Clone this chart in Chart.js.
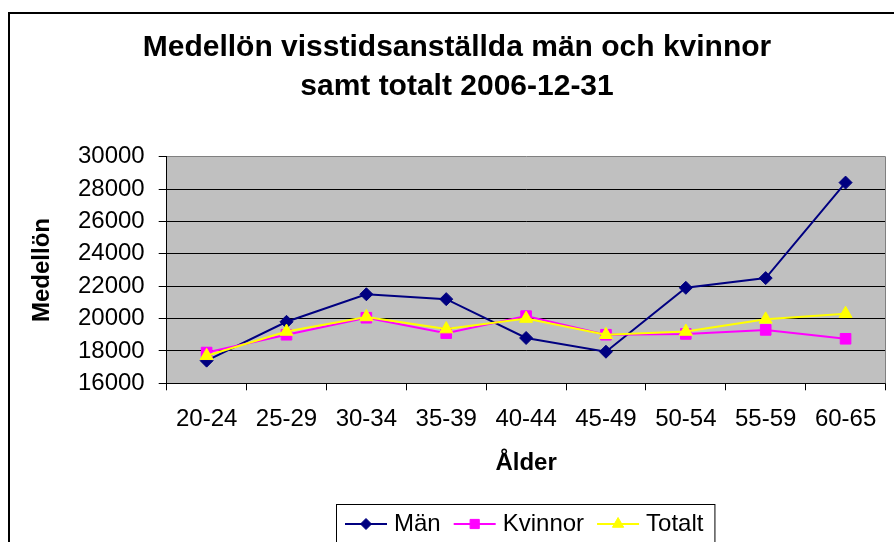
<!DOCTYPE html>
<html>
<head>
<meta charset="utf-8">
<script src="https://cdn.jsdelivr.net/npm/chart.js@4/dist/chart.umd.min.js"></script>
<style>
  html, body { margin: 0; padding: 0; background: #fff; }
  #wrap { width: 894px; height: 542px; position: relative; }
</style>
</head>
<body>
<div id="wrap"><canvas id="c" width="894" height="542"></canvas></div>
<script>
const titleLines = ['Medellön visstidsanställda män och kvinnor', 'samt totalt 2006-12-31'];
const xAxisTitle = 'Ålder';
const yAxisTitle = 'Medellön';
const categories = ['20-24', '25-29', '30-34', '35-39', '40-44', '45-49', '50-54', '55-59', '60-65'];
const seriesNames = ['Män', 'Kvinnor', 'Totalt'];
const manValues = [17400, 19800, 21500, 21200, 18800, 17950, 21900, 22500, 28400];
const kvinnorValues = [17900, 19000, 20050, 19100, 20150, 19000, 19050, 19300, 18750];
const totaltValues = [17700, 19200, 20100, 19350, 20000, 19000, 19200, 19950, 20300];
const yTickValues = [16000, 18000, 20000, 22000, 24000, 26000, 28000, 30000];

const FONT = '"Liberation Sans", Arial, sans-serif';

const bgPlugin = {
  id: 'bg',
  beforeDraw(chart) {
    const { ctx, chartArea: a } = chart;
    ctx.save();
    ctx.fillStyle = '#ffffff';
    ctx.fillRect(0, 0, chart.width, chart.height);
    ctx.fillStyle = '#C0C0C0';
    ctx.fillRect(a.left, a.top, a.right - a.left, a.bottom - a.top);
    ctx.restore();
  },
  beforeDatasetsDraw(chart) {
    const { ctx, chartArea: a } = chart;
    ctx.save();
    ctx.strokeStyle = '#808080';
    ctx.lineWidth = 1;
    ctx.beginPath();
    ctx.moveTo(Math.round(a.right) - 0.5, a.top);
    ctx.lineTo(Math.round(a.right) - 0.5, a.bottom);
    ctx.stroke();
    ctx.restore();
  },
  afterDraw(chart) {
    const ctx = chart.ctx;
    ctx.save();
    // outer frame
    ctx.strokeStyle = '#000';
    ctx.lineWidth = 2;
    ctx.strokeRect(9, 13, 2000, 2000);
    // legend
    const y = 524;
    let x = 345;
    ctx.font = '24px ' + FONT;
    ctx.textBaseline = 'middle';
    const items = [];
    chart.data.datasets.forEach((ds) => {
      const lx0 = x, lx1 = x + 42;
      const tx = lx1 + 7;
      const tw = ctx.measureText(ds.label).width;
      items.push({ ds, lx0, lx1, tx });
      x = tx + tw + 13;
    });
    const boxLeft = 336, boxRight = x - 2, boxTop = 504;
    ctx.fillStyle = '#fff';
    ctx.fillRect(boxLeft, boxTop, boxRight - boxLeft, 80);
    ctx.strokeStyle = '#000';
    ctx.lineWidth = 1;
    ctx.strokeRect(boxLeft + 0.5, boxTop + 0.5, boxRight - boxLeft, 80);
    items.forEach(({ ds, lx0, lx1, tx }) => {
      ctx.strokeStyle = ds.borderColor;
      ctx.lineWidth = 2;
      ctx.beginPath();
      ctx.moveTo(lx0, y);
      ctx.lineTo(lx1, y);
      ctx.stroke();
      ctx.fillStyle = ds.pointBackgroundColor;
      ctx.strokeStyle = ds.pointBorderColor;
      ctx.lineWidth = 1;
      Chart.helpers.drawPoint(ctx, { pointStyle: ds.pointStyle, radius: ds.pointRadius - 1, rotation: 0, borderWidth: 1 }, (lx0 + lx1) / 2, y);
      ctx.fillStyle = '#000';
      ctx.textAlign = 'left';
      ctx.fillText(ds.label, tx, y);
    });
    ctx.restore();
  }
};

const ctx = document.getElementById('c').getContext('2d');
new Chart(ctx, {
  type: 'line',
  data: {
    labels: categories,
    datasets: [
      {
        label: seriesNames[0], data: manValues,
        borderColor: '#000080', backgroundColor: '#000080',
        pointBackgroundColor: '#000080', pointBorderColor: '#000080',
        pointStyle: 'rectRot', pointRadius: 6.5, borderWidth: 2, pointBorderWidth: 1,
        order: 3, tension: 0
      },
      {
        label: seriesNames[1], data: kvinnorValues,
        borderColor: '#FF00FF', backgroundColor: '#FF00FF',
        pointBackgroundColor: '#FF00FF', pointBorderColor: '#FF00FF',
        pointStyle: 'rect', pointRadius: 7.5, borderWidth: 2, pointBorderWidth: 1,
        order: 2, tension: 0
      },
      {
        label: seriesNames[2], data: totaltValues,
        borderColor: '#FFFF00', backgroundColor: '#FFFF00',
        pointBackgroundColor: '#FFFF00', pointBorderColor: '#FFFF00',
        pointStyle: 'triangle', pointRadius: 7.5, borderWidth: 2, pointBorderWidth: 1,
        order: 1, tension: 0
      }
    ]
  },
  options: {
    responsive: false,
    animation: false,
    devicePixelRatio: 1,
    layout: { padding: { left: 24, right: 4, top: 0, bottom: 0 } },
    plugins: {
      legend: { display: false },
      tooltip: { enabled: false },
      title: {
        display: true,
        text: titleLines,
        color: '#000',
        font: { family: FONT, size: 30, weight: 'bold', lineHeight: 1.3 },
        padding: { top: 28.1, bottom: 50.6 }
      }
    },
    scales: {
      x: {
        offset: true,
        afterFit(s) { s.height = 158.7; },
        grid: { display: true, offset: true, drawOnChartArea: false, drawTicks: true, tickLength: 7, tickColor: '#000', color: '#000' },
        border: { display: true, color: '#000', width: 1 },
        ticks: { color: '#000', font: { family: FONT, size: 24 }, padding: 14.3, maxRotation: 0, autoSkip: false },
        title: { display: true, text: xAxisTitle, color: '#000', font: { family: FONT, size: 24, weight: 'bold' }, padding: { top: 0, bottom: 63.9 } }
      },
      y: {
        min: yTickValues[0],
        max: yTickValues[yTickValues.length - 1],
        afterFit(s) { s.width = 142.7; },
        afterBuildTicks(s) { s.ticks = yTickValues.map(v => ({ value: v })); },
        grid: {
          color: (c) => (c.tick && c.tick.value === yTickValues[yTickValues.length - 1]) ? '#808080' : '#000',
          lineWidth: 1, drawTicks: true, tickLength: 8, tickColor: '#000'
        },
        border: { display: true, color: '#000', width: 1 },
        ticks: { color: '#000', font: { family: FONT, size: 24 }, padding: 14, callback: (v) => String(v) },
        title: { display: true, text: yAxisTitle, color: '#000', font: { family: FONT, size: 24, weight: 'bold' }, padding: { top: 4, bottom: 0 } }
      }
    }
  },
  plugins: [bgPlugin]
});
</script>
</body>
</html>
